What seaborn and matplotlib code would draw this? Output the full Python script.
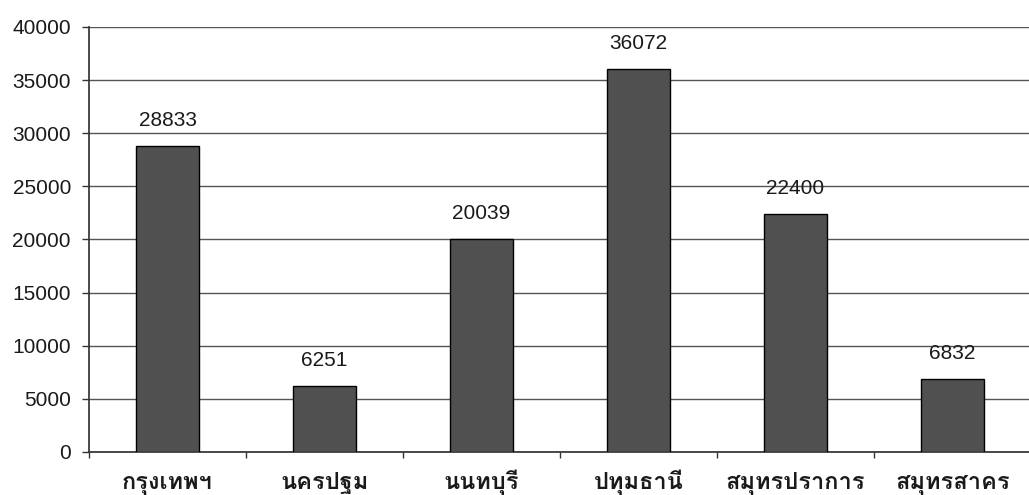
import matplotlib
matplotlib.use("Agg")
import matplotlib.pyplot as plt
import numpy as np
import pandas as pd
import seaborn as sns

provinces = ["กรุงเทพฯ", "นครปฐม", "นนทบุรี", "ปทุมธานี", "สมุทรปราการ", "สมุทรสาคร"]
counts = [28833, 6251, 20039, 36072, 22400, 6832]
y_ticks = [0, 5000, 10000, 15000, 20000, 25000, 30000, 35000, 40000]

df = pd.DataFrame({"province": provinces, "count": counts})

sns.set_theme(style="white")
plt.rcParams["font.family"] = ["Liberation Sans", "Loma", "DejaVu Sans"]

fig = plt.figure(figsize=(10.29, 4.95), dpi=100)
ax = fig.add_axes([0.0865, 0.0869, 0.9155, 0.8586])

sns.barplot(data=df, x="province", y="count", color="#505050", width=0.4,
            edgecolor="black", linewidth=1, saturation=1, ax=ax, zorder=3)

for c in ax.containers:
    ax.bar_label(c, labels=[str(v) for v in counts], padding=11.5, fontsize=15, color="#1a1a1a")

ax.set_ylim(0, 40000)
ax.set_xlim(-0.5, 5.5)
ax.set_yticks(y_ticks)
ax.set_yticklabels([str(v) for v in y_ticks], fontsize=15, color="#1a1a1a")
ax.yaxis.grid(True, color="#555555", linewidth=1)
ax.set_axisbelow(True)

# labels centred under bars, small ticks between categories
ax.set_xticks(range(len(provinces)))
ax.set_xticklabels(provinces, fontsize=17, fontweight="bold", color="#1a1a1a")
for lbl in ax.get_xticklabels():
    lbl.set_verticalalignment("baseline")
ax.set_xticks(np.arange(-0.5, 6, 1), minor=True)
ax.tick_params(axis="x", which="major", length=0, pad=26.5)
ax.tick_params(axis="x", which="minor", length=4, width=1, color="#333333", direction="out", bottom=True)
ax.tick_params(axis="y", length=5, width=1, color="#333333", direction="out", left=True, pad=8)

ax.set_xlabel("")
ax.set_ylabel("")
sns.despine(ax=ax, top=True, right=True)
ax.spines["left"].set_color("#333333")
ax.spines["bottom"].set_color("#333333")

fig.savefig("out.png")
